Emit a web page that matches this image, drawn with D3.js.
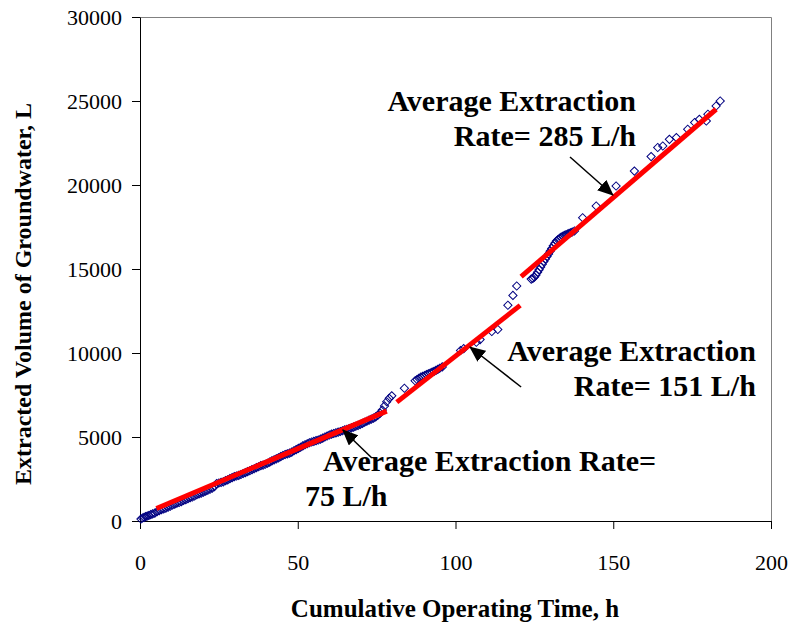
<!DOCTYPE html>
<html>
<head>
<meta charset="utf-8">
<script src="https://cdn.jsdelivr.net/npm/d3@7"></script>
<style>
  body { margin: 0; background: #fff; }
  svg { display: block; }
  text { font-family: "Liberation Serif", "Times New Roman", serif; fill: #000; }
</style>
</head>
<body>
<svg id="chart" width="797" height="632"></svg>
<script>
// Cumulative operating time (h) and extracted volume (L) of each reading
const hours = [
  0.3, 0.8, 1.3, 1.8, 2.3, 2.8, 3.4, 4.0, 4.7, 5.4, 6.1, 6.8, 7.5, 8.2, 8.9, 9.6,
  10.3, 11.0, 11.7, 12.4, 13.1, 13.8, 14.5, 15.2, 15.9, 16.6, 17.3, 18.0, 18.7, 19.4,
  20.1, 20.8, 21.5, 22.2, 22.9, 23.6, 24.3, 25.0, 25.7, 26.4, 27.1, 27.8, 28.5, 29.2,
  29.9, 30.6, 31.3, 32.0, 32.7, 33.4, 34.1, 34.8, 35.5, 36.2, 36.9, 37.6, 38.3, 39.0,
  39.7, 40.4, 41.1, 41.8, 42.5, 43.2, 43.9, 44.6, 45.3, 46.0, 46.7, 47.4, 48.1, 48.8,
  49.5, 50.2, 50.9, 51.6, 52.3, 53.0, 53.7, 54.4, 55.1, 55.8, 56.5, 57.2, 57.9, 58.6,
  59.3, 60.0, 60.7, 61.4, 62.1, 62.8, 63.5, 64.2, 64.9, 65.6, 66.3, 67.0, 67.7, 68.4,
  69.1, 69.8, 70.5, 71.2, 71.9, 72.6, 73.3, 74.0, 74.7, 75.4, 76.1, 76.8, 77.5, 78.2,
  79.0, 79.8,
  83.8, 87.2, 87.8, 88.4, 89.0, 89.6, 90.2, 90.8, 91.4, 92.0, 92.6, 93.2, 93.8, 94.4,
  95.0, 95.8, 101.6, 102.6, 106.6, 107.8, 111.5, 113.4, 116.6, 118.2, 119.4,
  124.0, 124.5, 125.0, 125.5, 126.0, 126.5, 127.0, 127.5, 128.0, 128.5, 129.0, 129.5,
  130.0, 130.5, 131.0, 131.5, 132.0, 132.5, 133.0, 133.5, 134.0, 134.5, 135.0, 135.5,
  136.0, 136.5, 137.0, 137.7,
  140.3, 144.6, 150.9, 156.7, 162.0, 164.1, 165.7, 167.8, 170.0, 173.6, 175.8, 177.3,
  179.5, 180.0, 182.6, 183.9
];
const volume = [
  120, 180, 220, 260, 300, 330, 380, 420, 470, 560, 620, 680, 720, 770, 830, 880,
  950, 1000, 1060, 1100, 1150, 1220, 1270, 1330, 1390, 1430, 1490, 1560, 1610, 1660,
  1720, 1780, 1830, 1890, 1960, 2050, 2230, 2260, 2300, 2330, 2400, 2450, 2520, 2580,
  2640, 2680, 2720, 2770, 2830, 2880, 2940, 2990, 3060, 3110, 3180, 3230, 3300, 3330,
  3380, 3440, 3500, 3580, 3640, 3700, 3760, 3830, 3900, 3960, 4000, 4040, 4100, 4180,
  4250, 4320, 4390, 4470, 4540, 4600, 4660, 4700, 4740, 4780, 4820, 4870, 4930, 5000,
  5060, 5120, 5170, 5210, 5250, 5290, 5330, 5370, 5420, 5460, 5500, 5540, 5590, 5640,
  5690, 5750, 5810, 5880, 5940, 6000, 6060, 6120, 6200, 6300, 6420, 6600, 6850, 7100,
  7300, 7450,
  7900, 8350, 8420, 8490, 8560, 8610, 8660, 8710, 8760, 8810, 8860, 8910, 8970, 9030,
  9090, 9170, 10150, 10260, 10640, 10800, 11280, 11400, 12840, 13430, 13990,
  14400, 14440, 14520, 14640, 14800, 14960, 15120, 15290, 15450, 15600, 15750, 15900,
  16060, 16220, 16380, 16540, 16660, 16750, 16830, 16900, 16950, 17000, 17040, 17080,
  17120, 17160, 17200, 17260,
  18050, 18750, 19940, 20830, 21690, 22230, 22320, 22720, 22820, 23320, 23720, 23910,
  23810, 24210, 24700, 25000
];

// Fitted lines for the three extraction periods
const fitStartHour = [5.2, 81.4, 120.8];
const fitStartVol  = [744, 7076, 14544];
const fitEndHour   = [78.2, 120.5, 182.6];
const fitEndVol    = [6540, 12835, 24509];

// Axis ticks
const xTicks = [0, 50, 100, 150, 200];
const yTicks = [0, 5000, 10000, 15000, 20000, 25000, 30000];

// Rate annotations: text lines, anchor point (h, L) and arrow (tail -> head)
const noteLines  = [
  ["Average Extraction Rate=", "75 L/h"],
  ["Average Extraction", "Rate= 151 L/h"],
  ["Average Extraction", "Rate= 285 L/h"]
];
const noteHour   = [[58.0, 52.3], [195.2, 195.2], [157.2, 157.2]];
const noteVol    = [[2976, 893], [9524, 7440], [24405, 22321]];
const noteAnchor = ["start", "end", "end"];
const arrowTail  = [[73.5, 3750], [120.8, 7976], [136.3, 21667]];
const arrowHead  = [[64.3, 5417], [104.6, 10357], [149.9, 19405]];

const svg = d3.select("#chart");

const x = d3.scaleLinear().domain([0, 200]).range([140, 771]);
const y = d3.scaleLinear().domain([0, 30000]).range([521, 17]);

// Plot area outline (top and right)
svg.append("path")
  .attr("d", `M${x(0)},${y(30000) + 0.5}H${x(200) + 0.5}V${y(0)}`)
  .attr("fill", "none")
  .attr("stroke", "#808080")
  .attr("stroke-width", 1);

// Axes
const fmt = d3.format("d");
const xAxis = svg.append("g")
  .attr("transform", `translate(0,${y(0)})`)
  .call(d3.axisBottom(x).tickValues(xTicks).tickFormat(fmt)
    .tickSize(8).tickSizeOuter(0).tickPadding(25));
const yAxis = svg.append("g")
  .attr("transform", `translate(${x(0)},0)`)
  .call(d3.axisLeft(y).tickValues(yTicks).tickFormat(fmt)
    .tickSize(8).tickSizeOuter(0).tickPadding(10));

[xAxis, yAxis].forEach(g => {
  g.attr("font-family", null);
  g.selectAll("path, line").attr("stroke", "#000");
  g.selectAll("text")
    .attr("font-size", 22)
    .attr("fill", "#000");
});

// Axis titles
svg.append("text")
  .attr("x", 455).attr("y", 617)
  .attr("text-anchor", "middle")
  .attr("font-size", 25).attr("font-weight", "bold")
  .text("Cumulative Operating Time, h");
svg.append("text")
  .attr("transform", "translate(31,294) rotate(-90)")
  .attr("text-anchor", "middle")
  .attr("font-size", 24).attr("font-weight", "bold")
  .text("Extracted Volume of Groundwater, L");

// Readings: open diamonds
const readings = hours.map((h, i) => ({ h, v: volume[i] }));
const diamond = d3.symbol().type(d3.symbolSquare).size(34)();
svg.append("g")
  .selectAll("path")
  .data(readings)
  .join("path")
  .attr("d", diamond)
  .attr("transform", d => `translate(${x(d.h)},${y(d.v)}) rotate(45)`)
  .attr("fill", "none")
  .attr("stroke", "#000080")
  .attr("stroke-width", 1);

// Fitted rate lines
const fits = fitStartHour.map((h, i) => ({
  x0: h, y0: fitStartVol[i], x1: fitEndHour[i], y1: fitEndVol[i]
}));
svg.append("g")
  .selectAll("line")
  .data(fits)
  .join("line")
  .attr("x1", d => x(d.x0)).attr("y1", d => y(d.y0))
  .attr("x2", d => x(d.x1)).attr("y2", d => y(d.y1))
  .attr("stroke", "#ff0000")
  .attr("stroke-width", 5);

// Arrow marker
svg.append("defs").append("marker")
  .attr("id", "arrowhead")
  .attr("markerUnits", "userSpaceOnUse")
  .attr("viewBox", "0 0 16 14")
  .attr("markerWidth", 16).attr("markerHeight", 14)
  .attr("refX", 15).attr("refY", 7)
  .attr("orient", "auto")
  .append("path")
  .attr("d", "M0,0L16,7L0,14Z")
  .attr("fill", "#000");

svg.append("g")
  .selectAll("line")
  .data(arrowTail.map((t, i) => ({ t, hd: arrowHead[i] })))
  .join("line")
  .attr("x1", d => x(d.t[0])).attr("y1", d => y(d.t[1]))
  .attr("x2", d => x(d.hd[0])).attr("y2", d => y(d.hd[1]))
  .attr("stroke", "#000")
  .attr("stroke-width", 1.5)
  .attr("marker-end", "url(#arrowhead)");

// Annotation texts
noteLines.forEach((lines, i) => {
  lines.forEach((line, j) => {
    svg.append("text")
      .attr("x", x(noteHour[i][j]))
      .attr("y", y(noteVol[i][j]))
      .attr("text-anchor", noteAnchor[i])
      .attr("font-size", 30)
      .attr("font-weight", "bold")
      .text(line);
  });
});
</script>
</body>
</html>
